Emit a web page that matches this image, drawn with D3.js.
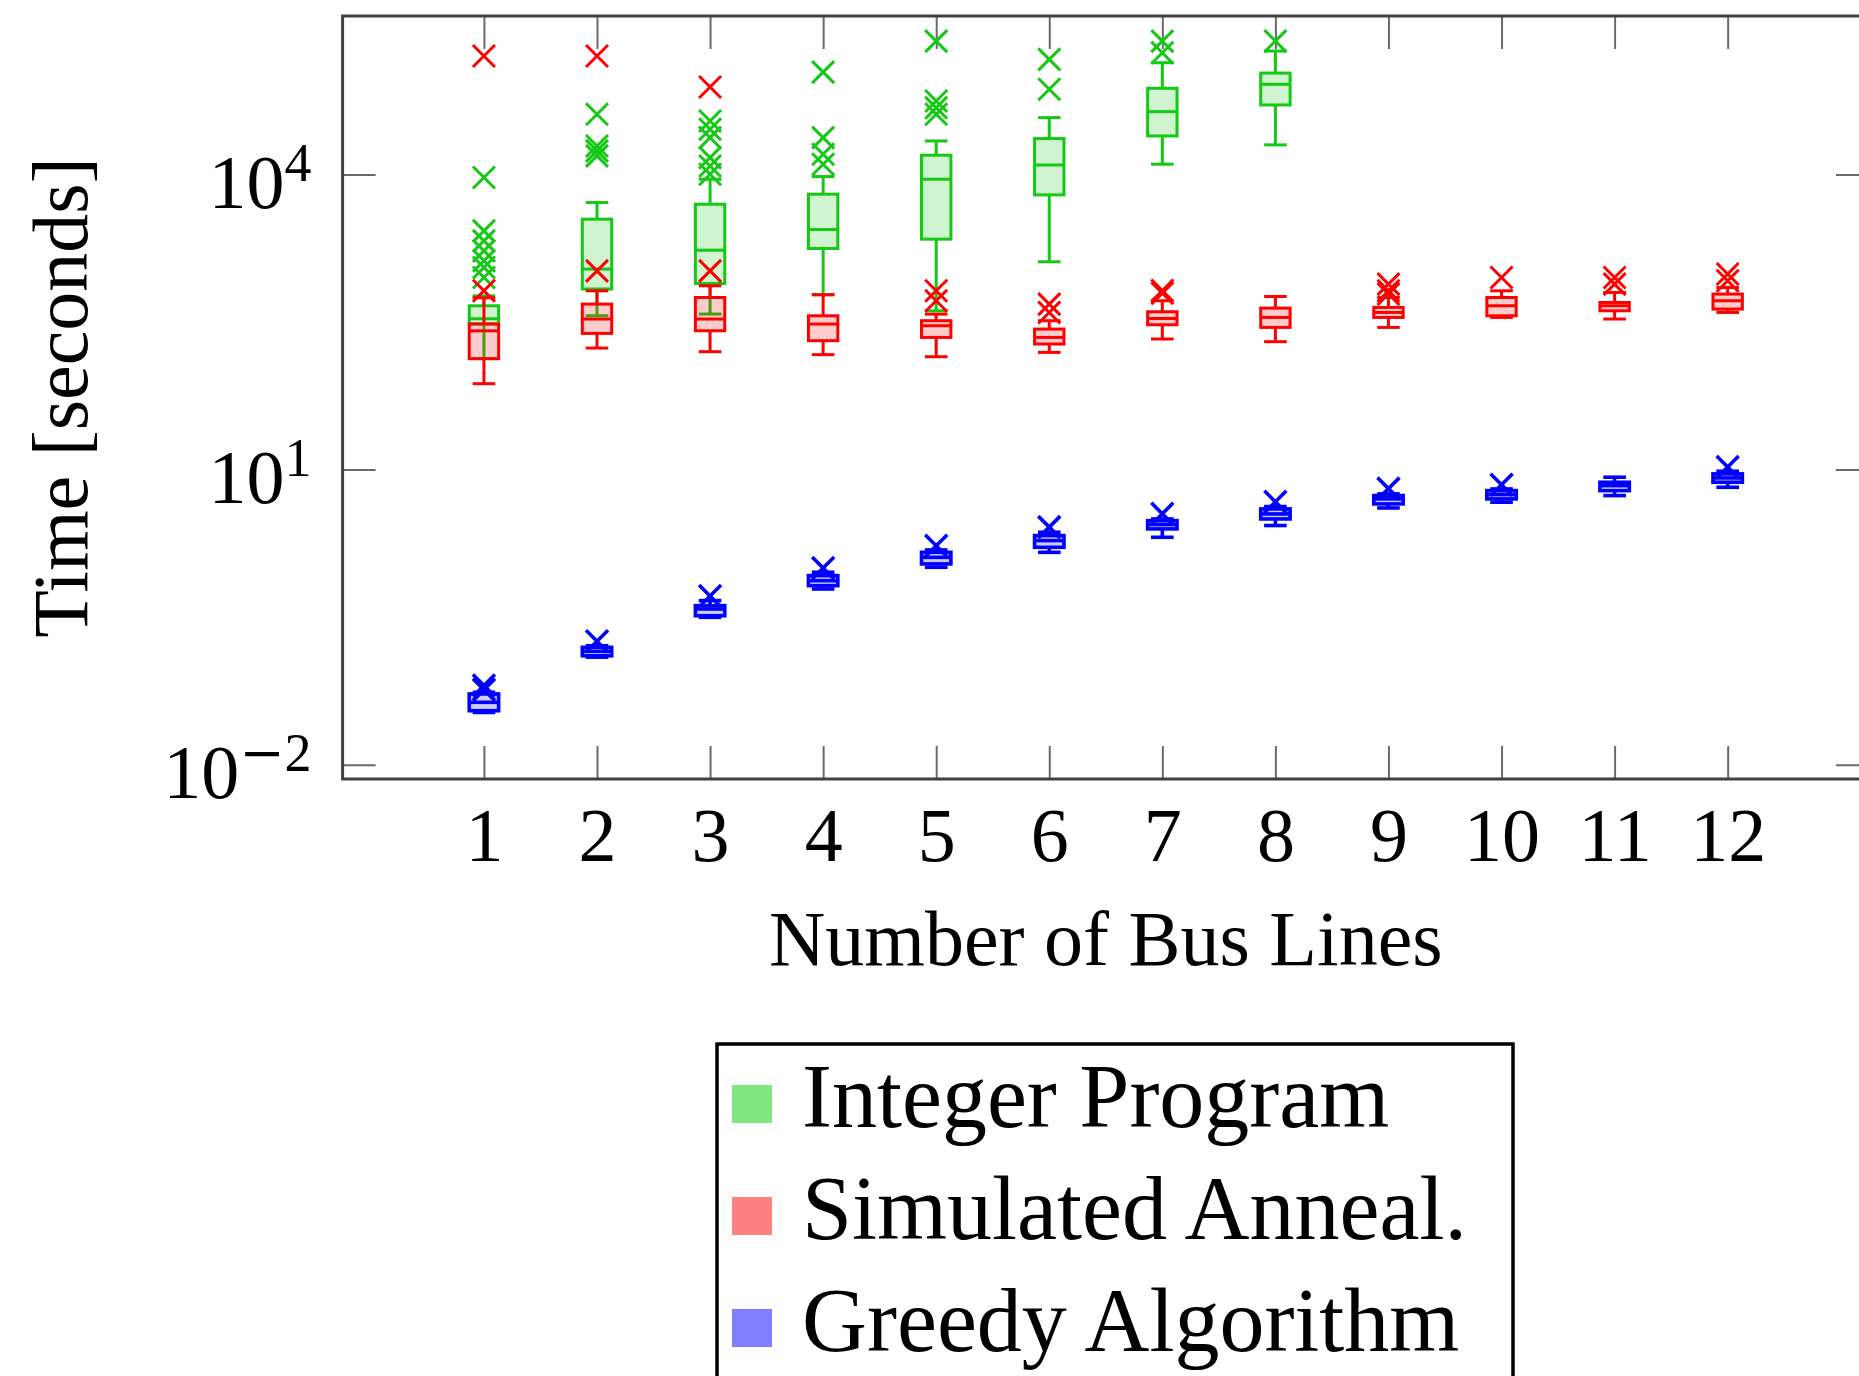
<!DOCTYPE html>
<html>
<head>
<meta charset="utf-8">
<script src="https://cdn.jsdelivr.net/npm/d3@7"></script>
<style>
  body { margin: 0; background: #fff; }
  svg { display: block; font-family: "Liberation Serif", "Times New Roman", serif; }
</style>
</head>
<body>
<div id="chart"></div>
<script>
// ---- data (seconds) ----
const busLines = [1, 2, 3, 4, 5, 6, 7, 8, 9, 10, 11, 12];

// Integer Program (only solved up to 8 lines)
const ipLines = [1, 2, 3, 4, 5, 6, 7, 8];
const ipLow = [134, 366, 381, 598, 411, 1294, 12700, 19950];
const ipQ1 = [302, 684, 778, 1766, 2198, 6194, 24600, 50800];
const ipMedian = [341, 1091, 1698, 2754, 8933, 12470, 43450, 82400];
const ipQ3 = [462, 3508, 4977, 6295, 15670, 23120, 75000, 107150];
const ipHigh = [583, 5176, 8933, 9506, 21880, 37760, 136500, 179500];
const ipOutliers = [
  [9290, 2667, 2113, 1671, 1324, 1132, 895],
  [40840, 19450, 17340, 15420],
  [34910, 28770, 23660, 14830, 12190, 10050],
  [109650, 23660, 16030, 12700],
  [226500, 55700, 47640, 40840],
  [147600, 73280],
  [226500, 172600],
  [226500]
];

// Simulated Annealing
const saLow = [74.6, 171.8, 157.8, 147.2, 140.3, 155.2, 212.3, 199.5, 278.6, 351.6, 338.8, 395.4];
const saQ1 = [134, 242.1, 257.6, 204.2, 220.3, 188.8, 296.5, 278.6, 351.6, 365.6, 411.1, 427.6];
const saMedian = [257, 338.8, 338.8, 301.3, 289.7, 220.3, 343.6, 351.6, 395.4, 462.4, 462.4, 520];
const saQ3 = [302, 480.8, 561, 365.6, 325.8, 267.9, 401.8, 437.5, 444.6, 561, 498.9, 608.1];
const saHigh = [557, 656, 738, 598.4, 380.2, 325.8, 520, 574.1, 561, 656.1, 631, 707.9];
const saOutliers = [
  [159600, 656],
  [159600, 1047],
  [77270, 1047],
  [],
  [656, 520],
  [481, 395],
  [620, 660],
  [],
  [767, 656, 608],
  [895],
  [895, 767],
  [971, 830]
];

// Greedy Algorithm
const grLow = [0.034, 0.124, 0.315, 0.611, 1.016, 1.442, 2.05, 2.70, 4.07, 4.66, 5.44, 6.61];
const grQ1 = [0.0354, 0.128, 0.327, 0.661, 1.099, 1.622, 2.495, 3.148, 4.477, 5.035, 6.11, 7.43];
const grMedian = [0.0431, 0.142, 0.383, 0.743, 1.282, 1.897, 2.761, 3.54, 5.035, 5.57, 6.87, 8.22];
const grQ3 = [0.0524, 0.156, 0.414, 0.836, 1.442, 2.133, 3.027, 3.98, 5.445, 6.11, 7.43, 9.04];
const grHigh = [0.0545, 0.162, 0.466, 0.904, 1.524, 2.307, 3.148, 4.207, 5.66, 6.35, 8.36, 9.62];
const grOutliers = [
  [0.064, 0.058], [0.18], [0.52], [1.0], [1.68], [2.6],
  [3.55], [4.7], [6.4], [7.0], [], [10.6]
];

const yTickValues = [1e-2, 1e1, 1e4];
const seriesNames = ["Integer Program", "Simulated Anneal.", "Greedy Algorithm"];

// ---- layout ----
const width = 1859;
const height = 1376;
const plot = {left: 342.6, right: 1869, top: 16, bottom: 779};

const svg = d3.select("#chart")
  .append("svg")
    .attr("width", width)
    .attr("height", height);

const xScale = d3.scaleLinear()
  .domain([-0.25, 13.25])
  .range([plot.left, plot.right]);

const yScale = d3.scaleLog()
  .domain([Math.pow(10, -2.145), Math.pow(10, 5.61)])
  .range([plot.bottom, plot.top]);

const series = [
  {name: seriesNames[0], color: "#14c814", swatch: "#80e480", lines: ipLines, width: 3,
   low: ipLow, q1: ipQ1, med: ipMedian, q3: ipQ3, high: ipHigh, out: ipOutliers},
  {name: seriesNames[1], color: "#ff0000", swatch: "#ff8080", lines: busLines, width: 3,
   low: saLow, q1: saQ1, med: saMedian, q3: saQ3, high: saHigh, out: saOutliers},
  {name: seriesNames[2], color: "#0000ff", swatch: "#8080ff", lines: busLines, width: 3.6,
   low: grLow, q1: grQ1, med: grMedian, q3: grQ3, high: grHigh, out: grOutliers}
];

// ---- axes (ticks inside, mirrored) ----
const tickLen = 33;
const tickColor = "#6a6a6a";

const bottomAxis = svg.append("g")
  .attr("transform", `translate(0, ${plot.bottom})`)
  .call(d3.axisBottom(xScale).tickValues(busLines).tickFormat(d3.format("d"))
    .tickSizeInner(-tickLen).tickSizeOuter(0).tickPadding(28));

const topAxis = svg.append("g")
  .attr("transform", `translate(0, ${plot.top})`)
  .call(d3.axisTop(xScale).tickValues(busLines).tickFormat("")
    .tickSizeInner(-tickLen).tickSizeOuter(0));

const leftAxis = svg.append("g")
  .attr("transform", `translate(${plot.left}, 0)`)
  .call(d3.axisLeft(yScale).tickValues(yTickValues).tickFormat("")
    .tickSizeInner(-tickLen).tickSizeOuter(0).tickPadding(31));

const rightAxis = svg.append("g")
  .attr("transform", `translate(${plot.right}, 0)`)
  .call(d3.axisRight(yScale).tickValues(yTickValues).tickFormat("")
    .tickSizeInner(-tickLen).tickSizeOuter(0));

[bottomAxis, topAxis, leftAxis, rightAxis].forEach(a => {
  a.select(".domain").remove();
  a.selectAll(".tick line").attr("stroke", tickColor).attr("stroke-width", 2);
  a.selectAll(".tick text")
    .attr("font-family", "Liberation Serif, serif")
    .attr("font-size", 76)
    .attr("fill", "#000");
});

// 10^k labels with superscripts
leftAxis.selectAll(".tick text")
  .attr("dy", "0.43em")
  .each(function(d) {
    const e = Math.round(Math.log10(d));
    const t = d3.select(this);
    t.text(null);
    t.append("tspan").text("10");
    const sup = t.append("tspan")
      .attr("dy", -27)
      .attr("font-size", 54);
    if (e < 0) {
      sup.text("\u2212").attr("font-family", "DejaVu Serif, serif");
      t.append("tspan").attr("font-size", 54).text(String(-e));
    } else {
      sup.text(String(e));
    }
  });

// ---- boxplots ----
const boxHalf = (xScale(0.26) - xScale(0)) / 2;
const capHalf = (xScale(0.2) - xScale(0)) / 2;
const markHalf = 11;

series.forEach(s => {
  const boxes = s.lines.map((x, i) => ({
    x: x, low: s.low[i], q1: s.q1[i], med: s.med[i], q3: s.q3[i], high: s.high[i], out: s.out[i]
  }));

  const g = svg.append("g")
    .attr("stroke", s.color)
    .attr("stroke-width", s.width)
    .attr("fill", "none");

  // whiskers
  g.selectAll(".whisker-lo")
    .data(boxes)
    .join("line")
      .attr("x1", d => xScale(d.x)).attr("x2", d => xScale(d.x))
      .attr("y1", d => yScale(d.q1)).attr("y2", d => yScale(d.low));
  g.selectAll(".whisker-hi")
    .data(boxes)
    .join("line")
      .attr("x1", d => xScale(d.x)).attr("x2", d => xScale(d.x))
      .attr("y1", d => yScale(d.q3)).attr("y2", d => yScale(d.high));

  // caps
  ["low", "high"].forEach(k => {
    g.selectAll(".cap-" + k)
      .data(boxes)
      .join("line")
        .attr("x1", d => xScale(d.x) - capHalf).attr("x2", d => xScale(d.x) + capHalf)
        .attr("y1", d => yScale(d[k])).attr("y2", d => yScale(d[k]));
  });

  // boxes
  g.selectAll(".box")
    .data(boxes)
    .join("rect")
      .attr("x", d => xScale(d.x) - boxHalf)
      .attr("y", d => yScale(d.q3))
      .attr("width", boxHalf * 2)
      .attr("height", d => yScale(d.q1) - yScale(d.q3))
      .attr("fill", s.color)
      .attr("fill-opacity", 0.2);

  // medians
  g.selectAll(".median")
    .data(boxes)
    .join("line")
      .attr("x1", d => xScale(d.x) - boxHalf).attr("x2", d => xScale(d.x) + boxHalf)
      .attr("y1", d => yScale(d.med)).attr("y2", d => yScale(d.med));

  // outliers as crosses
  const outPts = boxes.flatMap(d => d.out.map(v => ({x: d.x, v: v})));
  g.selectAll(".outlier")
    .data(outPts)
    .join("path")
      .attr("transform", d => `translate(${xScale(d.x)}, ${yScale(d.v)})`)
      .attr("d", `M${-markHalf},${-markHalf}L${markHalf},${markHalf}M${-markHalf},${markHalf}L${markHalf},${-markHalf}`);
});

// frame
svg.append("rect")
  .attr("x", plot.left)
  .attr("y", plot.top)
  .attr("width", plot.right - plot.left)
  .attr("height", plot.bottom - plot.top)
  .attr("fill", "none")
  .attr("stroke", "#404040")
  .attr("stroke-width", 3);

// axis titles
svg.append("text")
  .text("Number of Bus Lines")
  .attr("x", (plot.left + plot.right) / 2)
  .attr("y", 965)
  .attr("text-anchor", "middle")
  .attr("font-size", 78);

svg.append("text")
  .text("Time [seconds]")
  .attr("transform", `translate(87, ${(plot.top + plot.bottom) / 2}) rotate(-90)`)
  .attr("text-anchor", "middle")
  .attr("font-size", 78);

// ---- legend ----
const legend = svg.append("g");
legend.append("rect")
  .attr("x", 717)
  .attr("y", 1044)
  .attr("width", 796)
  .attr("height", 420)
  .attr("fill", "#fff")
  .attr("stroke", "#000")
  .attr("stroke-width", 3.5);

const rows = legend.selectAll(".legend-row")
  .data(series)
  .join("g")
    .attr("transform", (d, i) => `translate(732, ${1085 + i * 112})`);

rows.append("rect")
  .attr("width", 40)
  .attr("height", 38)
  .attr("fill", d => d.swatch);

rows.append("text")
  .text(d => d.name)
  .attr("x", 70)
  .attr("y", 42)
  .attr("font-size", 90);
</script>
</body>
</html>
